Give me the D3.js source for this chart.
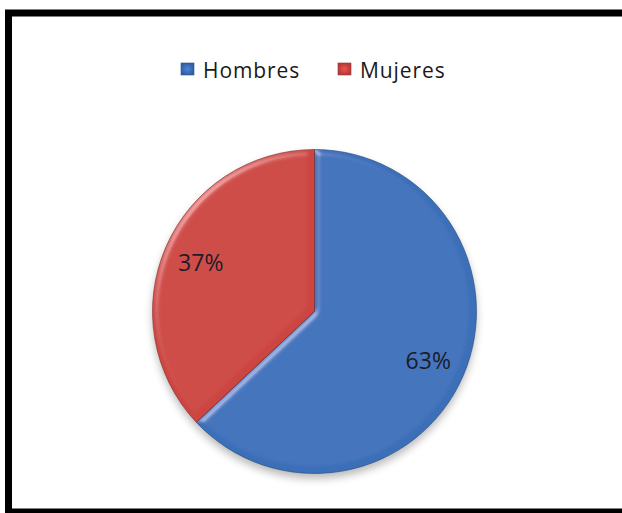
<!DOCTYPE html>
<html>
<head>
<meta charset="utf-8">
<script src="https://cdn.jsdelivr.net/npm/d3@7"></script>
<style>
  html, body { margin: 0; padding: 0; background: #fff; }
  svg { display: block; }
</style>
</head>
<body>
<svg id="chart" width="622" height="513"></svg>
<script>
// Distribution by sex
const categories = ["Hombres", "Mujeres"];
const values = [63, 37];
const labels = ["63%", "37%"];
const colors = ["#3b6fb9", "#cc4440"];

const W = 622, H = 513;
const svg = d3.select("#chart");
const defs = svg.append("defs");

// Bevel effect on the slices: light coming from the upper left
const bevel = defs.append("filter").attr("id", "bevel")
  .attr("x", "-10%").attr("y", "-10%").attr("width", "120%").attr("height", "120%");
bevel.append("feGaussianBlur").attr("in", "SourceAlpha").attr("stdDeviation", 3).attr("result", "blur");
const spec = bevel.append("feSpecularLighting").attr("in", "blur")
  .attr("surfaceScale", 3).attr("specularConstant", 0.35).attr("specularExponent", 30)
  .attr("lighting-color", "#ffffff").attr("result", "spec");
spec.append("feDistantLight").attr("azimuth", 225).attr("elevation", 40);
bevel.append("feComposite").attr("in", "spec").attr("in2", "SourceAlpha").attr("operator", "in").attr("result", "specOut");
bevel.append("feComposite").attr("in", "SourceGraphic").attr("in2", "specOut")
  .attr("operator", "arithmetic").attr("k1", 0).attr("k2", 1).attr("k3", 0.8).attr("k4", 0);

// Soft shadow under the pie
const shadow = defs.append("filter").attr("id", "shadow")
  .attr("x", "-20%").attr("y", "-20%").attr("width", "140%").attr("height", "140%");
shadow.append("feGaussianBlur").attr("stdDeviation", 4);

// Pillow shading for the legend keys
colors.forEach((c, i) => {
  const grad = defs.append("radialGradient").attr("id", `key${i}`);
  grad.append("stop").attr("offset", "0%").attr("stop-color", d3.color(c).brighter(0.5));
  grad.append("stop").attr("offset", "100%").attr("stop-color", d3.color(c).darker(0.4));
});

// Frame
svg.append("rect")
  .attr("x", 8.5).attr("y", 13).attr("width", 700).attr("height", 499)
  .attr("fill", "#fff").attr("stroke", "#000").attr("stroke-width", 7);

const cx = 314.5, cy = 311.5, r = 162;

const pie = d3.pie().sort(null).value(d => d)(values);
const arc = d3.arc().innerRadius(0).outerRadius(r);

const g = svg.append("g").attr("transform", `translate(${cx},${cy})`);

g.append("circle")
  .attr("cx", 0).attr("cy", 5).attr("r", r)
  .attr("fill", "#000").attr("opacity", 0.28)
  .attr("filter", "url(#shadow)");

g.selectAll("path.slice")
  .data(pie)
  .join("path")
  .attr("class", "slice")
  .attr("d", arc)
  .attr("fill", (d, i) => colors[i])
  .attr("filter", "url(#bevel)");

// Thin darker outline around each slice
g.selectAll("path.edge")
  .data(pie)
  .join("path")
  .attr("class", "edge")
  .attr("d", arc)
  .attr("fill", "none")
  .attr("stroke", (d, i) => d3.color(colors[i]).darker(1.2))
  .attr("stroke-opacity", 0.6)
  .attr("stroke-width", 1);

// Percentage labels
const labelArc = d3.arc().innerRadius(r * 0.765).outerRadius(r * 0.765);
g.selectAll("text.pct")
  .data(pie)
  .join("text")
  .attr("class", "pct")
  .attr("transform", d => {
    const [x, y] = labelArc.centroid(d);
    return `translate(${x},${y})`;
  })
  .attr("text-anchor", "middle")
  .attr("dy", "0.36em")
  .attr("font-family", "'Open Sans', sans-serif")
  .attr("font-size", 23)
  .attr("fill", "#1c1c2a")
  .text((d, i) => labels[i]);

// Legend
const legendX = [181, 338];
const legend = svg.append("g");
categories.forEach((c, i) => {
  const lg = legend.append("g").attr("transform", `translate(${legendX[i]},63)`);
  lg.append("rect").attr("width", 13).attr("height", 12)
    .attr("fill", `url(#key${i})`).attr("stroke", d3.color(colors[i]).darker(0.8)).attr("stroke-width", 0.6);
  lg.append("text").attr("x", 22).attr("y", 15)
    .attr("font-family", "'Open Sans', sans-serif")
    .attr("font-size", 21)
    .attr("letter-spacing", 0.9)
    .attr("fill", "#1a1a1a")
    .text(c);
});
</script>
</body>
</html>
